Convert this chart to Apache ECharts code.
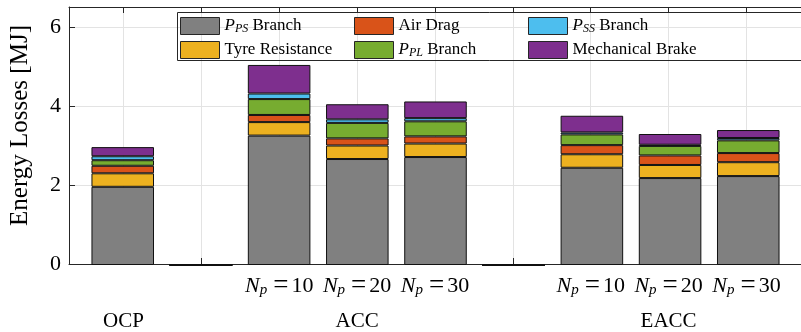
<!DOCTYPE html>
<html>
<head>
<meta charset="utf-8">
<script src="https://cdn.jsdelivr.net/npm/echarts@6/dist/echarts.min.js"></script>
<style>
  html, body { margin: 0; padding: 0; background: #fff; }
  #chart { width: 801px; height: 332px; }
</style>
</head>
<body>
<div id="chart"></div>
<script>
// Bar slots along the x axis (slots 2 and 6 are empty separators)
const xPos = [1, 2, 3, 4, 5, 6, 7, 8, 9];

// Energy losses per component [MJ], stacked bottom to top
const psBranch  = [1.97, 0, 3.26, 2.67, 2.72, 0, 2.45, 2.19, 2.24];
const tyreRes   = [0.34, 0, 0.34, 0.34, 0.34, 0, 0.34, 0.33, 0.35];
const airDrag   = [0.19, 0, 0.18, 0.18, 0.18, 0, 0.23, 0.24, 0.23];
const plBranch  = [0.14, 0, 0.40, 0.39, 0.38, 0, 0.27, 0.24, 0.32];
const ssBranch  = [0.10, 0, 0.14, 0.09, 0.08, 0, 0.05, 0.03, 0.06];
const mechBrake = [0.23, 0, 0.72, 0.38, 0.42, 0, 0.42, 0.27, 0.20];

// Prediction horizon under each bar, and controller group names
const horizonPos = [3, 4, 5, 7, 8, 9];
const horizonLabels = ['10', '20', '30', '10', '20', '30'];
const groupPos = [1, 4, 8];
const groupLabels = ['OCP', 'ACC', 'EACC'];

const yTicks = [0, 2, 4, 6];

const FONT = 'Liberation Serif';
const INK = '#000';
const AXIS = '#262626';
const GRID = '#e3e3e3';

const seriesDefs = [
  { key: 'PS',   rich: '{it|P}{sub|PS} Branch', data: psBranch,  color: '#808080' },
  { key: 'Tyre', rich: 'Tyre Resistance',       data: tyreRes,   color: '#EDB120' },
  { key: 'Air',  rich: 'Air Drag',              data: airDrag,   color: '#D95319' },
  { key: 'PL',   rich: '{it|P}{sub|PL} Branch', data: plBranch,  color: '#77AC30' },
  { key: 'SS',   rich: '{it|P}{sub|SS} Branch', data: ssBranch,  color: '#4DBEEE' },
  { key: 'Mech', rich: 'Mechanical Brake',      data: mechBrake, color: '#7E2F8E' }
];
const richByKey = {};
seriesDefs.forEach(s => { richByKey[s.key] = s.rich; });

// Plot frame: x runs from 0.3 to 9.7 so each slot is one unit wide
const X_MIN = 0.3, X_MAX = 9.7;
const FRAME = { left: 68, top: 7, width: 735, height: 258 };
const unit = FRAME.width / (X_MAX - X_MIN);
// Bar grid: one category band per slot, centred on the integer positions
const BARS = {
  left: FRAME.left + (0.5 - X_MIN) * unit,
  top: FRAME.top,
  width: xPos.length * unit,
  height: FRAME.height
};

const legendText = {
  fontFamily: FONT, fontSize: 17, color: INK,
  rich: {
    it: { fontFamily: FONT, fontSize: 17, fontStyle: 'italic', color: INK },
    sub: { fontFamily: FONT, fontSize: 12, fontStyle: 'italic', color: INK,
           verticalAlign: 'bottom', lineHeight: 8 }
  }
};
function makeLegend(left, keys) {
  return {
    orient: 'vertical', left: left, top: 17, padding: 0,
    itemWidth: 39, itemHeight: 17, itemGap: 6,
    icon: 'rect',
    data: keys,
    selectedMode: false,
    formatter: k => richByKey[k],
    itemStyle: { borderColor: AXIS, borderWidth: 1 },
    textStyle: legendText
  };
}

const chart = echarts.init(document.getElementById('chart'), null, { renderer: 'canvas' });

chart.setOption({
  animation: false,
  backgroundColor: '#fff',
  grid: [
    Object.assign({ containLabel: false }, FRAME),
    Object.assign({ containLabel: false }, BARS)
  ],
  legend: [
    makeLegend(180, ['PS', 'Tyre']),
    makeLegend(354, ['Air', 'PL']),
    makeLegend(528, ['SS', 'Mech'])
  ],
  graphic: [{
    type: 'rect', z: 10, silent: true,
    shape: { x: 177.5, y: 12.5, width: 700, height: 48 },
    style: { fill: 'none', stroke: AXIS, lineWidth: 1 }
  }],
  xAxis: [
    {
      gridIndex: 0, type: 'value', min: X_MIN, max: X_MAX, position: 'bottom',
      axisLine: { show: true, onZero: false, lineStyle: { color: AXIS, width: 1 } },
      axisTick: { show: true, inside: true, length: 6, customValues: xPos,
                  lineStyle: { color: AXIS } },
      splitLine: { show: true, lineStyle: { color: GRID, width: 1 } },
      axisLabel: {
        customValues: horizonPos, margin: 10,
        formatter: v => {
          const i = horizonPos.indexOf(Math.round(v));
          return i < 0 ? '' : '{it|N}{sub|p}{eq|=}{rm|' + horizonLabels[i] + '}';
        },
        rich: {
          it: { fontFamily: FONT, fontSize: 22, fontStyle: 'italic', color: INK, lineHeight: 24 },
          sub: { fontFamily: FONT, fontSize: 15, fontStyle: 'italic', color: INK,
                 verticalAlign: 'bottom', lineHeight: 10 },
          eq: { fontFamily: FONT, fontSize: 27, color: INK, lineHeight: 24, padding: [0, 3, 0, 6] },
          rm: { fontFamily: FONT, fontSize: 22, color: INK, lineHeight: 24 }
        }
      }
    },
    {
      gridIndex: 0, type: 'value', min: X_MIN, max: X_MAX, position: 'bottom',
      axisLine: { show: false }, axisTick: { show: false }, splitLine: { show: false },
      axisLabel: {
        customValues: groupPos, margin: 47,
        fontFamily: FONT, fontSize: 21, color: INK,
        formatter: v => {
          const i = groupPos.indexOf(Math.round(v));
          return i < 0 ? '' : groupLabels[i];
        }
      }
    },
    {
      gridIndex: 0, type: 'value', min: X_MIN, max: X_MAX, position: 'top',
      axisLine: { show: true, onZero: false, lineStyle: { color: AXIS, width: 1 } },
      axisTick: { show: true, inside: true, length: 6, customValues: xPos,
                  lineStyle: { color: AXIS } },
      splitLine: { show: false }, axisLabel: { show: false }
    },
    {
      gridIndex: 1, type: 'category', data: xPos.map(String), boundaryGap: true,
      show: false
    }
  ],
  yAxis: [
    {
      gridIndex: 0, type: 'value', min: 0, max: 6.5,
      axisLine: { show: true, lineStyle: { color: AXIS, width: 1 } },
      axisTick: { show: true, inside: true, length: 6, customValues: yTicks,
                  lineStyle: { color: AXIS } },
      splitLine: { show: true, lineStyle: { color: GRID, width: 1 } },
      axisLabel: { customValues: yTicks, margin: 8, fontFamily: FONT, fontSize: 22, color: INK },
      name: 'Energy Losses [MJ]', nameLocation: 'middle', nameGap: 36, nameRotate: 90,
      nameTextStyle: { fontFamily: FONT, fontSize: 25, color: INK, padding: [0, 0, 0, 20] }
    },
    {
      gridIndex: 1, type: 'value', min: 0, max: 6.5, show: false,
      splitLine: { show: false }
    }
  ],
  series: seriesDefs.map(s => ({
    type: 'bar', name: s.key, stack: 'losses',
    xAxisIndex: 3, yAxisIndex: 1,
    barWidth: '80%',
    data: s.data,
    itemStyle: { color: s.color, borderColor: '#111', borderWidth: 1 },
    emphasis: { disabled: true }
  }))
});
</script>
</body>
</html>
